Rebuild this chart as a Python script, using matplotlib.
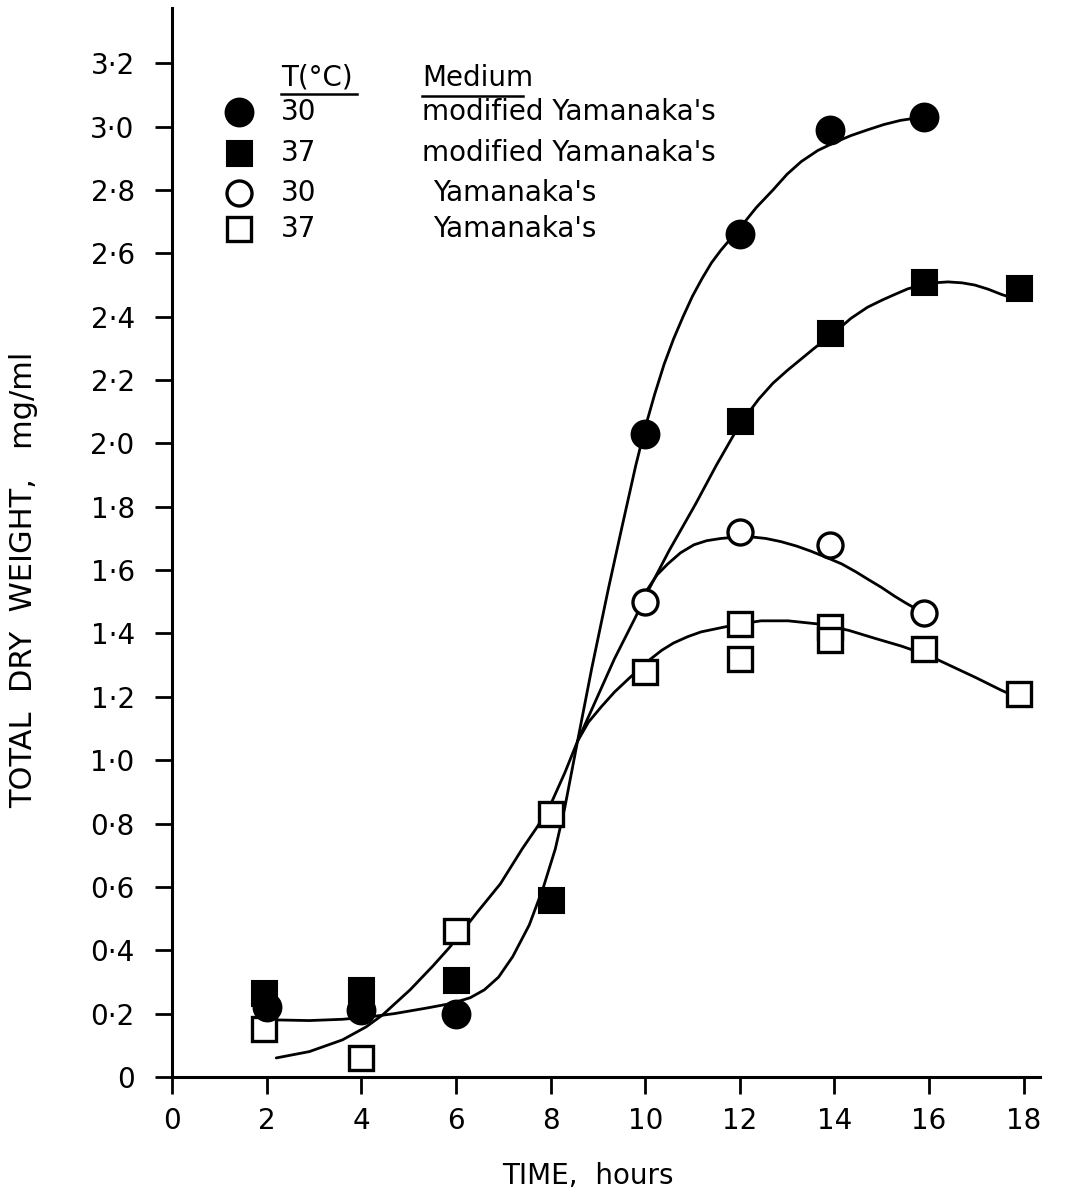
import matplotlib
matplotlib.use("Agg")
import matplotlib.pyplot as plt

# total dry weight (mg/ml) against time (hours)
# 30 C, modified Yamanaka's medium
time_30_mod = [2, 4, 6, 10, 12, 13.9, 15.9]
dw_30_mod = [0.22, 0.21, 0.20, 2.03, 2.66, 2.99, 3.03]
# 37 C, modified Yamanaka's medium
time_37_mod = [1.95, 4, 6, 8, 12, 13.9, 15.9, 17.9]
dw_37_mod = [0.265, 0.275, 0.305, 0.56, 2.07, 2.35, 2.51, 2.49]
# 30 C, Yamanaka's medium
time_30_yam = [10, 12, 13.9, 15.9]
dw_30_yam = [1.50, 1.72, 1.68, 1.465]
# 37 C, Yamanaka's medium
time_37_yam = [1.95, 4, 6, 8, 10, 12, 12, 13.9, 13.9, 15.9, 17.9]
dw_37_yam = [0.15, 0.06, 0.46, 0.83, 1.28, 1.43, 1.32, 1.42, 1.38, 1.35, 1.21]

# hand-drawn fitted curves, read point by point
fit_30_mod_t = [2.2, 2.9, 3.6, 4.2, 4.7, 5.4, 5.9, 6.3, 6.6, 6.9, 7.2, 7.55, 7.85, 8.1, 8.3,
                8.57, 8.87, 9.22, 9.5, 9.8, 10.0, 10.2, 10.4, 10.6, 10.8, 11.0, 11.2, 11.4,
                11.6, 11.8, 12.0, 12.35, 12.7, 13.0, 13.3, 13.65, 14.0, 14.35, 14.7, 15.05,
                15.4, 15.85]
fit_30_mod_w = [0.18, 0.178, 0.182, 0.19, 0.20, 0.218, 0.232, 0.25, 0.275, 0.315, 0.38, 0.48,
                0.60, 0.72, 0.85, 1.06, 1.29, 1.54, 1.73, 1.93, 2.05, 2.155, 2.25, 2.33, 2.40,
                2.465, 2.52, 2.57, 2.61, 2.645, 2.68, 2.745, 2.80, 2.85, 2.89, 2.925, 2.95,
                2.972, 2.99, 3.007, 3.02, 3.03]
fit_37_mod_t = [8.57, 8.93, 9.35, 9.79, 10.08, 10.5, 11.07, 11.5, 11.96, 12.2, 12.4, 12.7,
                13.0, 13.57, 14.0, 14.35, 14.7, 15.0, 15.27, 15.55, 15.84, 16.1, 16.4, 16.7,
                16.97, 17.25, 17.54, 17.75]
fit_37_mod_w = [1.06, 1.18, 1.32, 1.45, 1.54, 1.66, 1.81, 1.93, 2.05, 2.10, 2.14, 2.19,
                2.23, 2.30, 2.35, 2.395, 2.43, 2.452, 2.47, 2.488, 2.50, 2.507, 2.51, 2.507,
                2.50, 2.487, 2.47, 2.46]
fit_30_yam_t = [10.05, 10.25, 10.48, 10.75, 11.03, 11.3, 11.6, 11.9, 12.24, 12.55, 12.87,
                13.2, 13.5, 13.8, 14.15, 14.45, 14.7, 15.0, 15.27, 15.5, 15.7, 15.9]
fit_30_yam_w = [1.54, 1.585, 1.62, 1.655, 1.68, 1.693, 1.70, 1.704, 1.705, 1.70, 1.69,
                1.676, 1.66, 1.642, 1.62, 1.595, 1.572, 1.545, 1.518, 1.497, 1.48, 1.465]
fit_37_yam_t = [2.2, 2.9, 3.6, 4.1, 4.45, 5.03, 5.51, 5.87, 6.45, 6.94, 7.4, 7.72, 8.0, 8.3,
                8.57, 8.8, 9.08, 9.35, 9.67, 10.12, 10.35, 10.6, 10.9, 11.18, 11.66, 12.0,
                12.45, 13.02, 13.66, 14.3, 14.85, 15.42, 16.0, 16.5, 17.0, 17.54, 17.85]
fit_37_yam_w = [0.06, 0.08, 0.117, 0.158, 0.196, 0.275, 0.35, 0.41, 0.52, 0.61, 0.72, 0.79,
                0.86, 0.96, 1.06, 1.12, 1.17, 1.215, 1.26, 1.32, 1.347, 1.37, 1.39, 1.405,
                1.42, 1.43, 1.44, 1.44, 1.43, 1.41, 1.385, 1.36, 1.33, 1.295, 1.26, 1.22,
                1.20]

x_ticks = [0, 2, 4, 6, 8, 10, 12, 14, 16, 18]
x_ticklabels = ["0", "2", "4", "6", "8", "10", "12", "14", "16", "18"]
y_ticks = [0, 0.2, 0.4, 0.6, 0.8, 1.0, 1.2, 1.4, 1.6, 1.8, 2.0, 2.2, 2.4, 2.6, 2.8, 3.0, 3.2]
y_ticklabels = ["0", "0·2", "0·4", "0·6", "0·8", "1·0", "1·2", "1·4", "1·6", "1·8",
                "2·0", "2·2", "2·4", "2·6", "2·8", "3·0", "3·2"]

legend_temps = ["30", "37", "30", "37"]
legend_media = ["modified Yamanaka's", "modified Yamanaka's", "Yamanaka's", "Yamanaka's"]

plt.rcParams['font.family'] = ['DejaVu Sans']
INK = "black"
LW = 2.0

fig = plt.figure(figsize=(10.76, 11.99), dpi=100)
ax = fig.add_axes([0.16, 0.1018, 0.8067, 0.8916])

# curves
for t, w in [(fit_30_mod_t, fit_30_mod_w), (fit_37_mod_t, fit_37_mod_w),
             (fit_30_yam_t, fit_30_yam_w), (fit_37_yam_t, fit_37_yam_w)]:
    ax.plot(t, w, color=INK, lw=LW, solid_capstyle='round', solid_joinstyle='round',
            zorder=2)

# points
styles = [
    dict(marker='o', ms=20, mfc=INK, mec=INK, mew=1.5),
    dict(marker='s', ms=18, mfc=INK, mec=INK, mew=1.5),
    dict(marker='o', ms=18, mfc='white', mec=INK, mew=2.4),
    dict(marker='s', ms=17, mfc='white', mec=INK, mew=2.4),
]
series = [(time_37_yam, dw_37_yam), (time_30_mod, dw_30_mod),
          (time_37_mod, dw_37_mod), (time_30_yam, dw_30_yam)]
order = [3, 0, 1, 2]
for (t, w), k in zip(series, order):
    ax.plot(t, w, ls='none', zorder=3, **styles[k])

# key in the upper left corner
row_y = [0.9027, 0.8644, 0.8269, 0.7933]
med_x = [0.288, 0.288, 0.300, 0.300]
FS = 20
ax.text(0.1256, 0.9345, "T(°C)", transform=ax.transAxes, fontsize=FS, va='center', ha='left')
ax.text(0.288, 0.9345, "Medium", transform=ax.transAxes, fontsize=FS, va='center', ha='left')
ax.plot([0.1256, 0.2131], [0.9195, 0.9195], transform=ax.transAxes, color=INK, lw=1.8)
ax.plot([0.288, 0.404], [0.918, 0.918], transform=ax.transAxes, color=INK, lw=1.8)
for k in range(4):
    ax.plot([0.0772], [row_y[k]], transform=ax.transAxes, ls='none', clip_on=False,
            **styles[k])
    ax.text(0.1256, row_y[k], legend_temps[k], transform=ax.transAxes, fontsize=FS,
            va='center', ha='left')
    ax.text(med_x[k], row_y[k], legend_media[k], transform=ax.transAxes, fontsize=FS,
            va='center', ha='left')

ax.set_xlim(0, 18.35)
ax.set_ylim(0, 3.375)
ax.set_xticks(x_ticks)
ax.set_xticklabels(x_ticklabels)
ax.set_yticks(y_ticks)
ax.set_yticklabels(y_ticklabels)
ax.tick_params(axis='both', direction='out', length=12, width=2, labelsize=20, color=INK)
ax.tick_params(axis='y', pad=15)
ax.tick_params(axis='x', pad=10)

for side in ['top', 'right']:
    ax.spines[side].set_visible(False)
for side in ['left', 'bottom']:
    ax.spines[side].set_linewidth(2.2)

fig.text(24 / 1076, 1 - 580 / 1199, "TOTAL  DRY  WEIGHT,   mg/ml", rotation=90,
         fontsize=22, ha='center', va='center')
ax.set_xlabel("TIME,  hours", fontsize=20)
ax.xaxis.set_label_coords(0.479, -0.080)

fig.savefig("out.png", dpi=100)
